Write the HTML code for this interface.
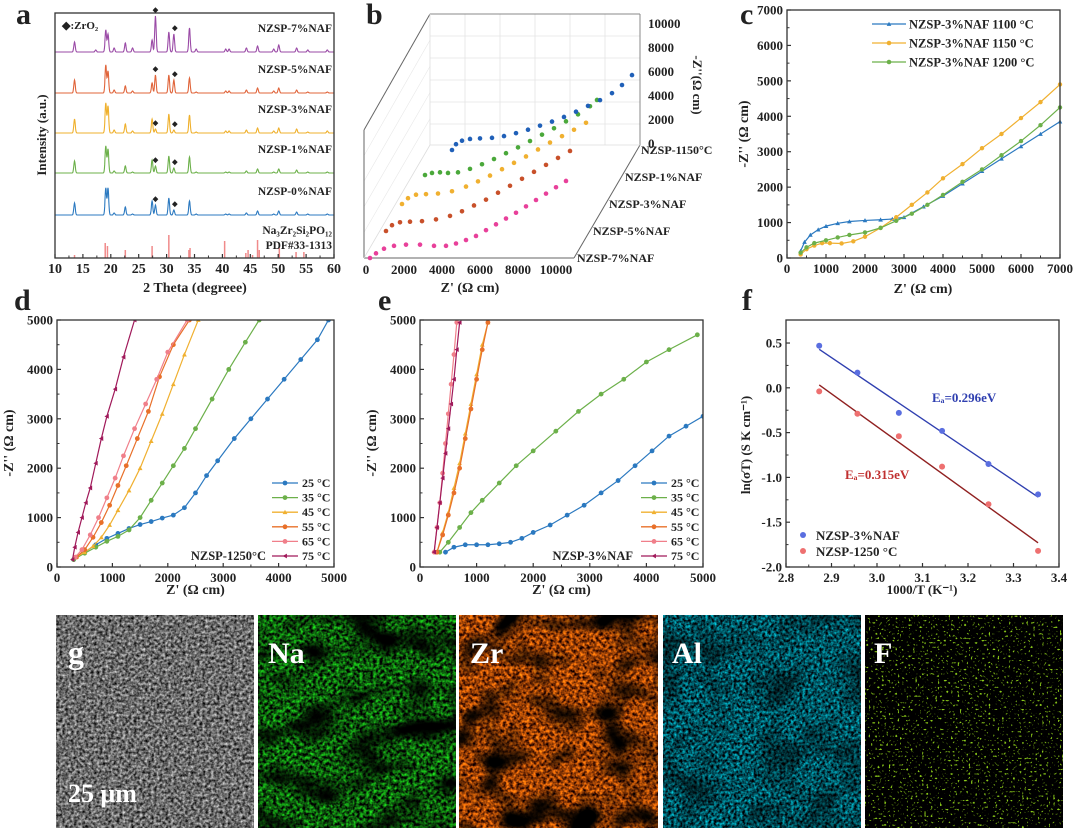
<!DOCTYPE html>
<html><head><meta charset="utf-8"><style>
html,body{margin:0;padding:0;background:#fff;}
svg text{font-family:"Liberation Serif",serif;font-weight:bold;fill:#222;}
filter{color-interpolation-filters:sRGB;}
</style></head><body>
<svg id="fig" xmlns="http://www.w3.org/2000/svg" width="1080" height="829" viewBox="0 0 1080 829">
<defs>
<filter id="fG" x="0" y="0" width="1" height="1" color-interpolation-filters="sRGB"><feTurbulence type="fractalNoise" baseFrequency="0.35" numOctaves="2" seed="2"/><feColorMatrix type="matrix" values="1.2 0 0 0 -0.18  1.2 0 0 0 -0.18  1.2 0 0 0 -0.18  0 0 0 0 1"/></filter>
<filter id="fNa" x="0" y="0" width="1" height="1" color-interpolation-filters="sRGB"><feTurbulence type="fractalNoise" baseFrequency="0.3" numOctaves="2" seed="5"/><feColorMatrix type="matrix" values="0.2 0 0 0 -0.05  1.7 0 0 0 -0.5  0.2 0 0 0 -0.05  0 0 0 0 1"/></filter>
<filter id="fZr" x="0" y="0" width="1" height="1" color-interpolation-filters="sRGB"><feTurbulence type="fractalNoise" baseFrequency="0.3" numOctaves="2" seed="7"/><feColorMatrix type="matrix" values="1.9 0 0 0 -0.35  1.0 0 0 0 -0.25  0.1 0 0 0 -0.03  0 0 0 0 1"/></filter>
<filter id="fAl" x="0" y="0" width="1" height="1" color-interpolation-filters="sRGB"><feTurbulence type="fractalNoise" baseFrequency="0.35" numOctaves="2" seed="9"/><feColorMatrix type="matrix" values="0 0 0 0 0  1.4 0 0 0 -0.38  1.5 0 0 0 -0.38  0 0 0 0 1"/></filter>
<filter id="fF" x="0" y="0" width="1" height="1" color-interpolation-filters="sRGB"><feTurbulence type="fractalNoise" baseFrequency="0.45" numOctaves="1" seed="11"/><feColorMatrix type="matrix" values="0 0 0 0 0.55  0 0 0 0 0.8  0 0 0 0 0.1  9 0 0 0 -5.6"/></filter>
<filter id="fBlot" x="0" y="0" width="1" height="1" color-interpolation-filters="sRGB"><feTurbulence type="fractalNoise" baseFrequency="0.02 0.035" numOctaves="2" seed="4"/><feColorMatrix type="matrix" values="0 0 0 0 0  0 0 0 0 0  0 0 0 0 0  3.5 0 0 0 -1.6"/></filter>
<filter id="fBlot2" x="0" y="0" width="1" height="1" color-interpolation-filters="sRGB"><feTurbulence type="fractalNoise" baseFrequency="0.025 0.03" numOctaves="2" seed="8"/><feColorMatrix type="matrix" values="0 0 0 0 0  0 0 0 0 0  0 0 0 0 0  3.5 0 0 0 -1.6"/></filter>
</defs>
<g id="pa"></g>
<g id="pb"></g>
<g id="pc"></g>
<g id="pd"></g>
<g id="pe"></g>
<g id="pf"></g>
<g id="pg">
 <rect x="56" y="615" width="198" height="213" fill="#666" filter="url(#fG)"/>
 <rect x="258" y="615" width="198" height="213" fill="#000"/>
 <rect x="258" y="615" width="198" height="213" filter="url(#fNa)"/>
 <rect x="258" y="615" width="198" height="213" filter="url(#fBlot)"/>
 <rect x="459" y="615" width="199" height="213" filter="url(#fZr)"/>
 <rect x="459" y="615" width="199" height="213" filter="url(#fBlot2)"/>
 <rect x="663" y="615" width="198" height="213" filter="url(#fAl)"/>
 <rect x="663" y="615" width="198" height="213" filter="url(#fBlot2)" opacity="0.5"/>
 <rect x="865" y="615" width="198" height="213" fill="#000"/>
 <rect x="865" y="615" width="198" height="213" filter="url(#fF)"/>
 <text x="68" y="663" font-size="32" style="fill:#fff">g</text>
 <text x="268" y="663" font-size="30" style="fill:#fff">Na</text>
 <text x="470" y="663" font-size="30" style="fill:#fff">Zr</text>
 <text x="672" y="663" font-size="30" style="fill:#fff">Al</text>
 <text x="874" y="663" font-size="30" style="fill:#fff">F</text>
 <text x="68" y="802" font-size="26" style="fill:#fff">25 μm</text>
</g>
<text x="16" y="24" font-size="30">a</text>
<text x="366" y="24" font-size="30">b</text>
<text x="740" y="24" font-size="30">c</text>
<text x="14" y="310" font-size="30">d</text>
<text x="378" y="310" font-size="30">e</text>
<text x="742" y="310" font-size="30">f</text>
</svg>
<script>
// ---------- panel a data ----------
const xrdPeaks=[13.5,17.3,19.1,19.5,20.6,22.6,23.9,27.4,28.0,30.4,31.3,34.1,35.3,40.6,41.2,44.3,46.3,49.2,50.1,53.3,55.3,58.8];
const xrd7=[10,2,22,18,4,9,4,12,36,20,18,24,3,3,3,4,6,3,7,4,2,2];
const xrd5=[13,0,28,22,3,7,2,10,18,18,13,15,1,2,2,3,5,2,5,3,1,1];
const xrd3=[14,0,30,27,3,9,2,14,4,19,3,18,1,2,2,3,5,2,5,4,1,2];
const xrd1=[12,0,27,24,2,7,1,13,7,17,5,16,1,1,1,2,4,1,4,3,1,1];
const xrd0=[12,0,27,27,2,8,1,14,10,17,5,14,1,1,1,2,4,1,4,3,1,1];
const xrdOffsets=[206,165,125,85,43];
const xrdNames=['NZSP-7%NAF','NZSP-5%NAF','NZSP-3%NAF','NZSP-1%NAF','NZSP-0%NAF'];
const pdfPos=[13.5,19.0,19.4,22.6,27.4,30.4,34.0,34.2,40.4,44.2,44.6,45.4,46.3,46.6,50.2,53.2,54.6];
const pdfInt=[3,15,12,8,12,23,8,10,17,5,8,3,18,8,10,6,6];
const zrO2Pos=[28.0,31.3];
const aTicks=[10,15,20,25,30,35,40,45,50,55,60];
// ---------- panel b data ----------
const bNames=['NZSP-7%NAF','NZSP-5%NAF','NZSP-3%NAF','NZSP-1%NAF','NZSP-1150°C'];
const bRe0=[0,300,700,1200,1800,2500,3200,3800,4300,4800,5300,5800,6300,6800,7300,7800,8300,8800,9300,9800];
const bIm0=[0,400,800,1050,1150,1150,1050,1050,1250,1550,1900,2400,2900,3400,3900,4450,5000,5550,6100,6640];
const bRe1=[0,300,700,1200,1800,2500,3200,3800,4400,5000,5600,6200,6800,7400,8000,8600,9200];
const bIm1=[0,500,750,800,850,1000,1300,1700,2200,2700,3300,3900,4500,5100,5700,6300,6900];
const bRe2=[0,300,700,1200,1800,2500,3200,3800,4400,5000,5600,6200,6800,7400,8000,8600,9200];
const bIm2=[0,500,800,850,900,1100,1500,1950,2450,3000,3550,4100,4700,5300,5850,6400,7000];
const bRe3=[350,700,1100,1500,2000,2600,3200,3800,4400,5000,5600,6200,6800,7400,8000,8600,8950];
const bIm3=[170,350,400,350,400,700,1100,1550,2050,2550,3100,3650,4200,4800,5400,6100,6640];
const bRe4=[900,1100,1400,1800,2300,2900,3500,4100,4700,5300,5900,6500,7100,7700,8300,8900,9400,9900];
const bIm4=[0,500,800,950,1000,1050,1200,1450,1750,2100,2450,2850,3300,3800,4300,4900,5600,6460];
const bXTicks=[0,2000,4000,6000,8000,10000];
const bYTicks=[0,2000,4000,6000,8000,10000];
// ---------- panel c data ----------
const cNames=['NZSP-3%NAF 1100 °C','NZSP-3%NAF 1150 °C','NZSP-3%NAF 1200 °C'];
const cRe1100=[350,450,600,800,1000,1300,1600,2000,2400,2700,3000,3500,4000,4500,5000,5500,6000,6500,7000];
const cIm1100=[200,450,650,800,900,980,1030,1060,1080,1100,1150,1450,1750,2100,2450,2800,3150,3500,3850];
const cRe1150=[350,500,700,900,1100,1400,1700,2000,2400,2800,3200,3600,4000,4500,5000,5500,6000,6500,7000];
const cIm1150=[100,250,350,420,420,410,470,600,850,1150,1500,1850,2250,2650,3100,3500,3950,4400,4900];
const cRe1200=[350,500,700,1000,1300,1600,2000,2400,2800,3200,3600,4000,4500,5000,5500,6000,6500,7000];
const cIm1200=[150,300,420,500,580,650,720,850,1050,1250,1500,1780,2150,2500,2900,3300,3750,4250];
const cTicks=[0,1000,2000,3000,4000,5000,6000,7000];
// ---------- panel d data ----------
const tempNames=['25 °C','35 °C','45 °C','55 °C','65 °C','75 °C'];
const dRe25=[300,500,700,900,1100,1300,1500,1700,1900,2100,2300,2500,2700,2900,3200,3500,3800,4100,4400,4700,4900];
const dIm25=[150,300,450,580,680,780,860,920,990,1050,1200,1500,1850,2150,2600,3000,3400,3800,4200,4600,5000];
const dRe35=[300,500,700,900,1100,1300,1500,1700,1900,2100,2300,2500,2800,3100,3400,3650];
const dIm35=[150,280,400,520,620,750,1000,1350,1700,2050,2400,2800,3400,4000,4550,5000];
const dRe45=[350,500,650,800,950,1100,1300,1500,1700,1900,2100,2300,2550];
const dIm45=[200,300,420,600,850,1150,1550,2000,2550,3100,3700,4300,5000];
const dRe55=[350,500,650,800,950,1100,1250,1450,1650,1850,2100,2390];
const dIm55=[200,350,600,900,1250,1650,2050,2600,3150,3850,4500,5000];
const dRe65=[330,450,600,750,900,1050,1200,1400,1600,1800,2000,2350];
const dIm65=[200,350,650,1000,1400,1800,2250,2800,3300,3800,4350,5000];
const dRe75=[280,320,380,450,520,600,700,800,900,1050,1200,1400];
const dIm75=[150,400,700,1000,1300,1600,2100,2600,3050,3600,4250,5000];
// ---------- panel e data ----------
const eRe25=[450,600,800,1000,1200,1400,1600,1800,2000,2300,2600,2900,3200,3500,3800,4100,4400,4700,5000];
const eIm25=[300,400,450,450,450,470,500,580,700,850,1050,1250,1500,1750,2050,2350,2650,2850,3050];
const eRe35=[350,500,700,900,1100,1400,1700,2000,2400,2800,3200,3600,4000,4400,4900];
const eIm35=[300,500,800,1100,1350,1700,2050,2350,2750,3150,3500,3800,4150,4400,4700];
const eRe45=[300,400,500,600,700,800,900,1000,1100,1200];
const eIm45=[300,700,1100,1600,2100,2700,3300,3900,4500,4950];
const eRe55=[300,400,500,600,700,800,900,1000,1100,1200];
const eIm55=[300,650,1050,1500,2000,2600,3200,3800,4400,4950];
const eRe65=[250,300,350,400,450,500,550,600,650];
const eIm65=[300,800,1300,1900,2500,3100,3700,4300,4950];
const eRe75=[250,300,350,400,450,500,550,600,650,700];
const eIm75=[300,800,1300,1800,2300,2800,3300,3800,4400,4950];
const zTicks=[0,1000,2000,3000,4000,5000];
// ---------- panel f data ----------
const fInvT=[2.873,2.957,3.048,3.143,3.245,3.354];
const fBlue=[0.47,0.17,-0.28,-0.48,-0.85,-1.19];
const fRed=[-0.04,-0.29,-0.54,-0.88,-1.30,-1.82];
const fXTicks=[2.8,2.9,3.0,3.1,3.2,3.3,3.4];
const fYTicks=[-2.0,-1.5,-1.0,-0.5,0.0,0.5];

const NS='http://www.w3.org/2000/svg';
function mk(tag,attrs,parent){const e=document.createElementNS(NS,tag);for(const k in attrs)e.setAttribute(k,attrs[k]);parent.appendChild(e);return e;}
function lin(d0,d1,r0,r1){return v=>r0+(v-d0)/(d1-d0)*(r1-r0);}
function T(parent,s,x,y,size,anchor,name,extra){
  const t=mk('text',Object.assign({x:x,y:y,'font-size':size,'text-anchor':anchor||'start'},extra||{}),parent);
  t.textContent=s;
  
  
  return t;
}
function frame(g,x0,x1,y0,y1){
  const r=mk('rect',{x:x0,y:y0,width:x1-x0,height:y1-y0,fill:'none',stroke:'#333','stroke-width':1.3},g);
  
  
}
function xAxis(g,ticks,sx,y1,fmt,size){
  ticks.forEach((v,i)=>{
    const l=mk('line',{x1:sx(v),x2:sx(v),y1:y1,y2:y1-4,stroke:'#333','stroke-width':1.2},g);
    
    
    T(g,fmt(v),sx(v),y1+15,size||13,'middle','x-tick-label');
    if(i<ticks.length-1){const m=(v+ticks[i+1])/2;
      const ml=mk('line',{x1:sx(m),x2:sx(m),y1:y1,y2:y1-2.5,stroke:'#333','stroke-width':1},g);
      
      }
  });
}
function yAxis(g,ticks,sy,x0,fmt,size){
  ticks.forEach((v,i)=>{
    const l=mk('line',{x1:x0,x2:x0+4,y1:sy(v),y2:sy(v),stroke:'#333','stroke-width':1.2},g);
    
    
    T(g,fmt(v),x0-4,sy(v)+4.5,size||13,'end','y-tick-label');
    if(i<ticks.length-1){const m=(v+ticks[i+1])/2;
      const ml=mk('line',{x1:x0,x2:x0+2.5,y1:sy(m),y2:sy(m),stroke:'#333','stroke-width':1},g);
      
      }
  });
}
function marker(g,shape,x,y,color,r){
  let m;
  if(shape==='tri'){m=mk('path',{d:`M${x},${y-r}L${x+r},${y+r*0.8}L${x-r},${y+r*0.8}Z`,fill:color},g);}
  else if(shape==='ltri'){m=mk('path',{d:`M${x-r},${y}L${x+r*0.8},${y-r}L${x+r*0.8},${y+r}Z`,fill:color},g);}
  else {m=mk('circle',{cx:x,cy:y,r:r,fill:color},g);}
  
  
}
function series(g,re,im,sx,sy,color,shape,r,name){
  const pl=mk('polyline',{points:re.map((v,i)=>sx(v)+','+sy(im[i])).join(' '),fill:'none',stroke:color,'stroke-width':1.2},g);
  
  
  re.forEach((v,i)=>marker(g,shape,sx(v),sy(im[i]),color,r));
}
const fmtInt=v=>String(v);

// ---------- panel a ----------
(function(){
  const g=document.getElementById('pa');
  const sx=lin(10,60,55,334), sy=lin(0,245,258,13);
  const cols=['#9a4aa6','#e0643a','#efb02c','#6cb04a','#2b79c0'];
  const all=[xrd7,xrd5,xrd3,xrd1,xrd0];
  const cg=mk('g',{},g);
  all.forEach((h,si)=>{
    const pts=[];
    for(let t=10;t<=60.001;t+=0.05){
      let y=xrdOffsets[si];
      xrdPeaks.forEach((p,k)=>{y+=h[k]*Math.exp(-((t-p)*(t-p))/(2*0.13*0.13));});
      pts.push(sx(t).toFixed(1)+','+sy(y).toFixed(1));
    }
    const pl=mk('polyline',{points:pts.join(' '),fill:'none',stroke:cols[si],'stroke-width':1.1},cg);
    
    
    zrO2Pos.forEach((p,k)=>{
      const idx=xrdPeaks.indexOf(p);
      T(g,'◆',sx(p)+(k?1:0),sy(xrdOffsets[si]+h[idx])-4,7,'middle','zro2-marker');
    });
    T(g,xrdNames[si],332,sy(xrdOffsets[si])-20,11.5,'end','series-label');
  });
  pdfPos.forEach((p,i)=>{
    const l=mk('line',{x1:sx(p),x2:sx(p),y1:sy(0),y2:sy(pdfInt[i]),stroke:'#f08a8a','stroke-width':1.5},g);
    
    
  });
  T(g,'Na₃Zr₂Si₂PO₁₂',332,234,11.5,'end','reference-label');
  T(g,'PDF#33-1313',332,249,11.5,'end','reference-pdf-label');
  T(g,'◆:ZrO₂',62,29,11,'start','legend-zro2');
  frame(g,55,334,13,258);
  xAxis(g,aTicks,sx,258,fmtInt,14);
  T(g,'2 Theta (degreee)',195,292,14,'middle','x-axis-title');
  T(g,'Intensity (a.u.)',0,0,13,'middle','y-axis-title',{transform:'translate(46,135) rotate(-90)'});
})();

// ---------- panel b ----------
(function(){
  const g=document.getElementById('pb');
  const L=(a,b,c,d,col,w,name)=>{const l=mk('line',{x1:a,y1:b,x2:c,y2:d,stroke:col,'stroke-width':w},g);};
  for(let k=1;k<6;k++){L(430+k*35,14,430+k*35,145,'#e4e4e4',0.8,'grid-line');}
  for(let k=1;k<6;k++){L(430,14+k*22,640,14+k*22,'#e4e4e4',0.8,'grid-line');}
  for(let k=1;k<5;k++){L(364,130+k*25.6,430,14+k*26.2,'#e8e8e8',0.6,'grid-line');}
  L(364,258,364,130,'#666',1,'box-edge');L(364,130,430,14,'#666',1,'box-edge');
  L(430,14,640,14,'#888',1,'box-edge');L(640,14,640,145,'#888',1,'box-edge');
  L(364,258,574,258,'#666',1,'box-edge');L(574,258,640,145,'#666',1,'box-edge');
  L(430,14,430,145,'#ddd',0.8,'box-edge');L(430,145,640,145,'#ddd',0.8,'box-edge');L(364,258,430,145,'#ddd',0.8,'box-edge');
  const cols=['#e8409a','#c8502a','#f0b030','#4aa83a','#2060b8'];
  const re=[bRe0,bRe1,bRe2,bRe3,bRe4], im=[bIm0,bIm1,bIm2,bIm3,bIm4];
  re.forEach((r,si)=>{
    const sx=lin(0,10000,370+si*16,570+si*16), sy=lin(0,10000,258-si*27,258-si*27-116);
    r.forEach((v,i)=>marker(g,'c',sx(v),sy(im[si][i]),cols[si],2.3));
    T(g,bNames[si],577+si*16,262-si*27,12,'start','depth-label');
  });
  const sxb=lin(0,10000,366,556);
  bXTicks.forEach(v=>T(g,String(v),sxb(v),274,13,'middle','x-tick-label'));
  const syb=lin(0,10000,144,24);
  bYTicks.forEach(v=>T(g,String(v),648,syb(v)+4,13,'start','z-tick-label'));
  T(g,"Z' (Ω cm)",470,292,14,'middle','x-axis-title');
  T(g,"-Z''(Ω cm)",0,0,13,'middle','z-axis-title',{transform:'translate(693,85) rotate(90)'});
})();

// ---------- panel c ----------
(function(){
  const g=document.getElementById('pc');
  const sx=lin(0,7000,787,1060), sy=lin(0,7000,258,10);
  series(g,cRe1100,cIm1100,sx,sy,'#2b79c0','tri',2.3,'series-1100');
  series(g,cRe1150,cIm1150,sx,sy,'#f0b030','c',2.2,'series-1150');
  series(g,cRe1200,cIm1200,sx,sy,'#6cb04a','c',2.2,'series-1200');
  const cc=['#2b79c0','#f0b030','#6cb04a'], sh=['tri','c','c'];
  cNames.forEach((n,i)=>{const y=24+i*19;
    const l=mk('line',{x1:872,x2:906,y1:y,y2:y,stroke:cc[i],'stroke-width':1.3},g);
    
    
    marker(g,sh[i],889,y,cc[i],2.3);
    T(g,n,909,y+4.5,12.5,'start','legend-entry');});
  frame(g,787,1060,10,258);
  xAxis(g,cTicks,sx,258,fmtInt,13);
  yAxis(g,cTicks,sy,787,fmtInt,13);
  T(g,"Z' (Ω cm)",923,293,14,'middle','x-axis-title');
  T(g,"-Z'' (Ω cm)",0,0,14,'middle','y-axis-title',{transform:'translate(748,134) rotate(-90)'});
})();

// ---------- panels d & e ----------
function impPanel(id,x0,x1,data,label,labelX){
  const g=document.getElementById(id);
  const sx=lin(0,5000,x0,x1), sy=lin(0,5000,567,320);
  const cols=['#2b79c0','#6cb04a','#f0b030','#e8702a','#f07f8a','#a0195a'];
  const sh=['c','c','tri','c','c','ltri'];
  const cg=mk('g',{},g);
  const cp=mk('clipPath',{id:id+'clip'},g);
  mk('rect',{x:x0,y:320,width:x1-x0,height:247},cp);
  cg.setAttribute('clip-path','url(#'+id+'clip)');
  data.forEach((d,i)=>series(cg,d[0],d[1],sx,sy,cols[i],sh[i],2.4,'series-'+tempNames[i]));
  tempNames.forEach((n,i)=>{const y=483+i*14.6;
    const l=mk('line',{x1:x1-62,x2:x1-36,y1:y,y2:y,stroke:cols[i],'stroke-width':1.3},g);
    
    
    marker(g,sh[i],x1-49,y,cols[i],2.4);
    T(g,n,x1-32,y+4,12,'start','legend-entry');});
  T(g,label,labelX,560,12.5,'end','sample-label');
  frame(g,x0,x1,320,567);
  xAxis(g,zTicks,sx,567,fmtInt,13);
  yAxis(g,zTicks,sy,x0,fmtInt,13);
  T(g,"Z' (Ω cm)",(x0+x1)/2,594,14,'middle','x-axis-title');
  T(g,"-Z'' (Ω cm)",0,0,14,'middle','y-axis-title',{transform:'translate('+(x0-44)+',443) rotate(-90)'});
}
impPanel('pd',57,334,[[dRe25,dIm25],[dRe35,dIm35],[dRe45,dIm45],[dRe55,dIm55],[dRe65,dIm65],[dRe75,dIm75]],'NZSP-1250°C',266);
impPanel('pe',420,703,[[eRe25,eIm25],[eRe35,eIm35],[eRe45,eIm45],[eRe55,eIm55],[eRe65,eIm65],[eRe75,eIm75]],'NZSP-3%NAF',633);

// ---------- panel f ----------
(function(){
  const g=document.getElementById('pf');
  const sx=lin(2.8,3.4,786,1059), sy=lin(-2.0,0.757,567,320);
  function fit(ys){const n=fInvT.length;const mx=fInvT.reduce((a,b)=>a+b)/n,my=ys.reduce((a,b)=>a+b)/n;
    let sxy=0,sxx=0;fInvT.forEach((x,i)=>{sxy+=(x-mx)*(ys[i]-my);sxx+=(x-mx)*(x-mx);});const b=sxy/sxx;return [b,my-b*mx];}
  [[fBlue,'#2f3fb0','#5a6ee0','fit-line-blue'],[fRed,'#902020','#ee7070','fit-line-red']].forEach(([ys,lc,pc,nm])=>{
    const [b,a]=fit(ys);const xa=fInvT[0],xb=fInvT[fInvT.length-1];
    const l=mk('line',{x1:sx(xa),y1:sy(a+b*xa),x2:sx(xb),y2:sy(a+b*xb),stroke:lc,'stroke-width':1.4},g);
    
    
    fInvT.forEach((x,i)=>marker(g,'c',sx(x),sy(ys[i]),pc,3));
  });
  T(g,'Eₐ=0.296eV',932,402,13,'start','activation-energy-blue',{style:'fill:#2f3fb0'});
  T(g,'Eₐ=0.315eV',845,479,13,'start','activation-energy-red',{style:'fill:#c03030'});
  marker(g,'c',803,535,'#5a6ee0',3);
  T(g,'NZSP-3%NAF',816,540,13,'start','legend-entry');
  marker(g,'c',803,551,'#ee7070',3);
  T(g,'NZSP-1250 °C',816,556,13,'start','legend-entry');
  frame(g,786,1059,320,567);
  xAxis(g,fXTicks,sx,567,v=>v.toFixed(1),13);
  yAxis(g,fYTicks,sy,786,v=>v.toFixed(1),13);
  T(g,'1000/T (K⁻¹)',922,594,13,'middle','x-axis-title');
  T(g,'ln(σT) (S K cm⁻¹)',0,0,13,'middle','y-axis-title',{transform:'translate(750,445) rotate(-90)'});
})();
</script>
</body></html>
